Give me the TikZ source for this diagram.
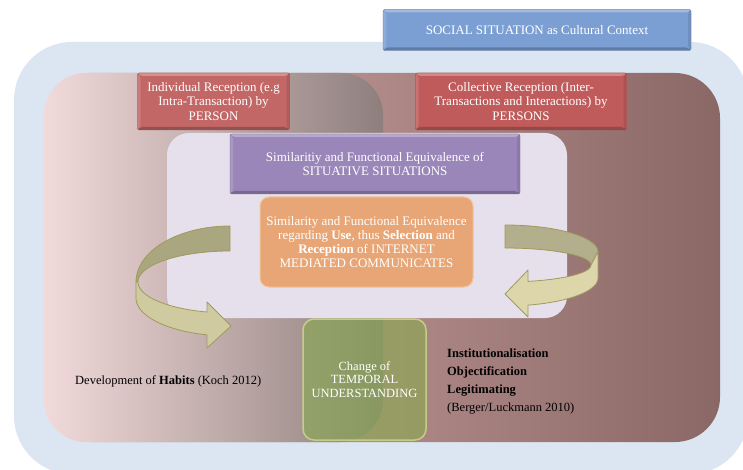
\documentclass[tikz,border=0pt]{standalone}
\usepackage{fontspec}
\setmainfont{Liberation Serif}
\definecolor{bgblue}{HTML}{DCE6F2}
\definecolor{pinkL}{HTML}{F2DADA}
\definecolor{pinkM}{HTML}{CFA0A0}
\definecolor{brownR}{HTML}{8A6866}
\definecolor{greyR}{HTML}{8E7F7D}
\definecolor{lilac}{HTML}{E6E0EC}
\definecolor{cblue}{HTML}{7C9FD3}
\definecolor{cpurple}{HTML}{9B86B9}
\definecolor{credA}{HTML}{C26666}
\definecolor{credB}{HTML}{C05B5B}
\definecolor{corange}{HTML}{E8A676}
\definecolor{corangeedge}{HTML}{F4C49C}
\definecolor{cgreen}{HTML}{86AC4B}
\definecolor{cgreenedge}{HTML}{C8D488}
\definecolor{arrowback}{HTML}{A9A680}
\definecolor{arrowfront}{HTML}{D0CAA0}
\definecolor{arrowbackR}{HTML}{B3AE8C}
\definecolor{arrowfrontR}{HTML}{DDD6AB}
\definecolor{arrowline}{HTML}{A09A5C}
\begin{document}
\begin{tikzpicture}[x=1pt,y=-1pt,
  boxtext/.style={text=white, align=center, inner sep=0pt,
    font=\fontsize{13}{14.2}\selectfont},
  bevelbox/.style={boxtext, rectangle, rounded corners=2pt, fill=#1,
    draw=#1!80!black, line width=0.4pt,
    path picture={
      \path (path picture bounding box.north west) coordinate (bnw)
            (path picture bounding box.north east) coordinate (bne)
            (path picture bounding box.south west) coordinate (bsw)
            (path picture bounding box.south east) coordinate (bse);
      \fill[#1!72!white] (bnw) -- (bne) -- ([xshift=-3pt,yshift=-3pt]bne)
        -- ([xshift=3pt,yshift=-3pt]bnw) -- cycle;
      \fill[#1!86!white] (bnw) -- ([xshift=3pt,yshift=-3pt]bnw)
        -- ([xshift=3pt,yshift=3pt]bsw) -- (bsw) -- cycle;
      \fill[#1!90!black] (bne) -- ([xshift=-3pt,yshift=-3pt]bne)
        -- ([xshift=-3pt,yshift=3pt]bse) -- (bse) -- cycle;
      \fill[#1!78!black] (bsw) -- ([xshift=3pt,yshift=3pt]bsw)
        -- ([xshift=-3pt,yshift=3pt]bse) -- (bse) -- cycle;
    }},
  ribbon/.style={draw=arrowline, line width=0.8pt, line join=round},
  plaintext/.style={text=black, inner sep=0pt, font=\fontsize{12.5}{18}\selectfont}
]
\useasboundingbox (0,0) rectangle (743,470);
\clip (0,0) rectangle (743,470);
\fill[white] (0,0) rectangle (743,470);

% social situation frame
\fill[bgblue, rounded corners=58pt] (14,42) rectangle (748,474);

% reception layer: collective side and individual side
\shade[left color=pinkM!90!white, middle color=pinkM, right color=brownR,
  rounded corners=45pt] (44,73) rectangle (720,442);
\shade[left color=pinkL, right color=greyR, rounded corners=42pt]
  (44,73) rectangle (383,442);

% situative layer
\fill[lilac, rounded corners=22pt] (167,133) rectangle (567,318);

% left cycle arrow
\fill[arrowback, ribbon]
  plot[domain=270:180, samples=40, variable=\t] ({230+94*cos(\t)},{282+56*sin(\t)})
  -- plot[domain=180:270, samples=40, variable=\t] ({230+92*cos(\t)},{282+31*sin(\t)})
  -- cycle;
\fill[arrowfront, ribbon]
  (136,282) -- (136,298)
  -- plot[domain=180:104.16, samples=40, variable=\t] ({230+94*cos(\t)},{298+38*sin(\t)})
  -- (207,348) -- (231,326) -- (207,302)
  -- plot[domain=104.48:180, samples=40, variable=\t] ({230+92*cos(\t)},{282+31*sin(\t)})
  -- cycle;

% right cycle arrow
\fill[arrowbackR, ribbon]
  plot[domain=270:360, samples=40, variable=\t] ({505+93*cos(\t)},{252+27*sin(\t)})
  -- (591,265)
  -- plot[domain=360:270, samples=40, variable=\t] ({505+86*cos(\t)},{265+17*sin(\t)})
  -- cycle;
\fill[arrowfrontR, ribbon]
  (598,252) -- (598,278)
  -- plot[domain=0:75.68, samples=40, variable=\t] ({505+93*cos(\t)},{278+28*sin(\t)})
  -- (528,317) -- (505,294) -- (528,270)
  -- plot[domain=74.49:0, samples=40, variable=\t] ({505+86*cos(\t)},{265+17*sin(\t)})
  -- cycle;

% boxes
\node[bevelbox=cblue, minimum width=308pt, minimum height=41pt] (social)
  at (537,30) {SOCIAL SITUATION as Cultural Context};
\node[bevelbox=credA, minimum width=152pt, minimum height=57pt] (individual)
  at (213.5,101.5) {Individual Reception (e.g\\Intra-Transaction) by\\PERSON};
\node[bevelbox=credB, minimum width=211pt, minimum height=57pt] (collective)
  at (521,101.5) {Collective Reception (Inter-\\Transactions and Interactions) by\\PERSONS};
\node[bevelbox=cpurple, minimum width=290pt, minimum height=60pt] (situative)
  at (375,164) {Similaritiy and Functional Equivalence of\\SITUATIVE SITUATIONS};
\node[boxtext, rectangle, rounded corners=9pt, fill=corange, draw=corangeedge,
  line width=1pt, minimum width=213pt, minimum height=90pt] (communicates)
  at (366.5,242) {Similarity and Functional Equivalence\\regarding \textbf{Use}, thus \textbf{Selection} and\\\textbf{Reception} of INTERNET\\MEDIATED COMMUNICATES};
\node[boxtext, rectangle, rounded corners=11pt, fill=cgreen, fill opacity=0.57,
  text opacity=1, draw=cgreenedge, draw opacity=0.9, line width=1.5pt,
  font=\fontsize{12.5}{13.6}\selectfont,
  minimum width=123pt, minimum height=121pt] (temporal)
  at (364.5,379.5) {Change of\\TEMPORAL\\UNDERSTANDING};

% side notes
\node[plaintext, anchor=west] (habits) at (75,381)
  {Development of \textbf{Habits} (Koch 2012)};
\node[plaintext, anchor=west, align=left] (institution) at (447,382)
  {\textbf{Institutionalisation}\\\textbf{Objectification}\\\textbf{Legitimating}\\(Berger/Luckmann 2010)};
\end{tikzpicture}
\end{document}
